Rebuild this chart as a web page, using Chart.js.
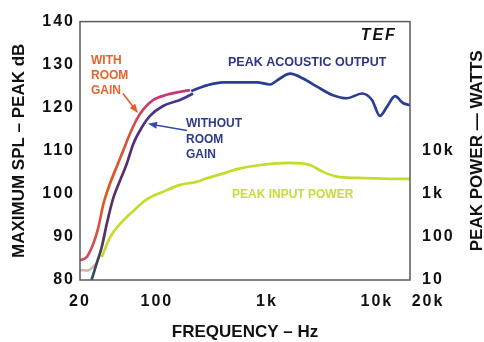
<!DOCTYPE html>
<html>
<head>
<meta charset="utf-8">
<script src="https://cdn.jsdelivr.net/npm/chart.js@4.4.1/dist/chart.umd.min.js"></script>
<style>
  html, body { margin: 0; padding: 0; background: #fff; }
  #wrap { width: 484px; height: 342px; }
</style>
</head>
<body>
<div id="wrap"><canvas id="chart" width="484" height="342"></canvas></div>
<script>
// values (Hz, dB and watts)
const withRoomFreq = [20, 23, 26.4, 29.3, 32.6, 37.5, 43.1, 49.5, 57, 65.6, 75.3, 92.8, 123, 162, 200];
const withRoomDb = [84.6, 85.3, 88.4, 92.1, 97.6, 102.4, 106.3, 110.1, 114.0, 117.3, 119.6, 121.8, 123.0, 123.7, 124.1];

const withoutRoomFreq = [25.5, 28.4, 31.5, 35, 40.1, 44.6, 53.2, 61, 72.8, 86.6, 113.6, 162, 213];
const withoutRoomDb = [80, 83.9, 87.6, 93.0, 99.0, 102.1, 107.0, 111.6, 115.4, 118.1, 120.4, 121.8, 123.3];

const lowEndFreq = [20, 23.5, 28.4];
const lowEndDb = [82.3, 82.2, 83.9];

const acousticFreq = [205, 285, 399, 607, 813, 1067, 1315, 1623, 2128, 2854, 3990, 5348, 7320, 9026, 10660, 12340, 14620, 17270, 20000];
const acousticDb = [123.9, 125.2, 125.9, 125.9, 125.9, 125.4, 126.8, 127.9, 126.8, 124.9, 122.9, 122.2, 123.3, 121.8, 118.1, 120.2, 122.7, 121.1, 120.6];

const inputFreq = [31.5, 37.5, 46.2, 61, 80.8, 114, 162, 230, 274, 383, 546, 866, 1623, 2467, 3235, 4340, 6600, 13150, 20000];
const inputWatts = [34, 98, 200, 400, 740, 1120, 1620, 1900, 2240, 2880, 3800, 4680, 5250, 4680, 3240, 2510, 2340, 2240, 2240];

const freqTicks = [20, 100, 1000, 10000, 20000];
const freqTickLabels = ['20', '100', '1k', '10k', '20k'];
const splTicks = [80, 90, 100, 110, 120, 130, 140];
const powerTicks = [10, 100, 1000, 10000];
const powerTickLabels = ['10', '100', '1k', '10k'];

const pts = (xs, ys) => xs.map((v, i) => ({ x: v, y: ys[i] }));
const tickFont = { family: 'Liberation Sans', size: 16, weight: 'bold' };

function redGrad(context) {
  const { ctx, chartArea, scales } = context.chart;
  if (!chartArea) return '#d4503f';
  const g = ctx.createLinearGradient(0, scales.y.getPixelForValue(84), 0, scales.y.getPixelForValue(124));
  g.addColorStop(0, '#cc4d6a');
  g.addColorStop(0.4, '#de5a22');
  g.addColorStop(0.75, '#d2553f');
  g.addColorStop(1, '#c9347e');
  return g;
}

function purpleGrad(context) {
  const { ctx, chartArea, scales } = context.chart;
  if (!chartArea) return '#55307a';
  const g = ctx.createLinearGradient(0, scales.y.getPixelForValue(80), 0, scales.y.getPixelForValue(123.5));
  g.addColorStop(0, '#2f4f5a');
  g.addColorStop(0.25, '#5a3060');
  g.addColorStop(0.8, '#552d82');
  g.addColorStop(1, '#3a3a96');
  return g;
}

function text(ctx, str, px, py, font, color, align, spacing) {
  ctx.font = font;
  ctx.fillStyle = color;
  ctx.textAlign = align;
  ctx.textBaseline = 'middle';
  ctx.letterSpacing = spacing || '0px';
  ctx.fillText(str, px, py);
}

function arrow(ctx, x0, y0, x1, y1, color) {
  const ang = Math.atan2(y1 - y0, x1 - x0);
  ctx.strokeStyle = color;
  ctx.fillStyle = color;
  ctx.lineWidth = 1.6;
  ctx.beginPath();
  ctx.moveTo(x0, y0);
  ctx.lineTo(x1 - 6 * Math.cos(ang), y1 - 6 * Math.sin(ang));
  ctx.stroke();
  ctx.beginPath();
  ctx.moveTo(x1, y1);
  ctx.lineTo(x1 - 9 * Math.cos(ang) + 3.5 * Math.sin(ang), y1 - 9 * Math.sin(ang) - 3.5 * Math.cos(ang));
  ctx.lineTo(x1 - 9 * Math.cos(ang) - 3.5 * Math.sin(ang), y1 - 9 * Math.sin(ang) + 3.5 * Math.cos(ang));
  ctx.closePath();
  ctx.fill();
}

const spacing = {
  id: 'spacing',
  beforeLayout(chart) { chart.ctx.letterSpacing = '2px'; },
  beforeDraw(chart) {
    chart.ctx.letterSpacing = '2px';
    // the 20k label sits outside the frame corner, to the right of its tick
    const items = chart.scales.x.getLabelItems();
    const last = items[items.length - 1];
    if (last && !last.shifted) {
      last.options.translation[0] += 18;
      last.shifted = true;
    }
  }
};

const notes = {
  id: 'notes',
  afterDraw(chart) {
    const { ctx, chartArea: a, scales: { x, y } } = chart;
    const X = v => x.getPixelForValue(v);
    const Y = v => y.getPixelForValue(v);
    ctx.save();
    ctx.strokeStyle = '#5a5a5a';
    ctx.lineWidth = 1.5;
    ctx.strokeRect(a.left, a.top, a.width, a.height);

    text(ctx, 'TEF', X(15200), Y(136.8), 'italic bold 16px "Liberation Sans"', '#111', 'right', '2px');
    text(ctx, 'PEAK ACOUSTIC OUTPUT', X(443), Y(130.4), 'bold 12.5px "Liberation Sans"', '#2f3580', 'left');

    const lab = 'bold 12px "Liberation Sans"';
    text(ctx, 'WITH', X(25.2), Y(130.9), lab, '#e8622a', 'left');
    text(ctx, 'ROOM', X(25.2), Y(127.5), lab, '#e8622a', 'left');
    text(ctx, 'GAIN', X(25.2), Y(124.0), lab, '#e8622a', 'left');
    arrow(ctx, X(49.2), Y(123.3), X(67.3), Y(118.8), '#e8582a');

    text(ctx, 'WITHOUT', X(184), Y(116.3), lab, '#2e3a8c', 'left');
    text(ctx, 'ROOM', X(184), Y(112.6), lab, '#2e3a8c', 'left');
    text(ctx, 'GAIN', X(184), Y(109.0), lab, '#2e3a8c', 'left');
    arrow(ctx, X(187.8), Y(114.7), X(83), Y(116.3), '#3a4aa8');

    text(ctx, 'PEAK INPUT POWER', X(482), Y(99.85), 'bold 12px "Liberation Sans"', '#c8db3a', 'left');

    const title = 'bold 17px "Liberation Sans"';
    text(ctx, 'FREQUENCY – Hz', (a.left + a.right) / 2, 332, title, '#111', 'center');
    ctx.save();
    ctx.translate(19, (a.top + a.bottom) / 2);
    ctx.rotate(-Math.PI / 2);
    text(ctx, 'MAXIMUM SPL – PEAK dB', 0, 0, title, '#111', 'center');
    ctx.restore();
    ctx.save();
    ctx.translate(477, (a.top + a.bottom) / 2);
    ctx.rotate(-Math.PI / 2);
    text(ctx, 'PEAK POWER — WATTS', 0, 0, title, '#111', 'center');
    ctx.restore();
    ctx.restore();
  }
};

new Chart(document.getElementById('chart'), {
  type: 'line',
  data: {
    datasets: [
      { label: 'With room gain', data: pts(withRoomFreq, withRoomDb), borderColor: redGrad, yAxisID: 'y' },
      { label: 'Without room gain', data: pts(withoutRoomFreq, withoutRoomDb), borderColor: purpleGrad, yAxisID: 'y' },
      { label: 'Low end', data: pts(lowEndFreq, lowEndDb), borderColor: '#cdb9ad', yAxisID: 'y' },
      { label: 'Peak acoustic output', data: pts(acousticFreq, acousticDb), borderColor: '#2a3d91', yAxisID: 'y' },
      { label: 'Peak input power', data: pts(inputFreq, inputWatts), borderColor: '#c6dc2c', yAxisID: 'y2' },
    ],
  },
  options: {
    responsive: false,
    animation: false,
    layout: { padding: { top: 17, left: 0, right: 0, bottom: 0 } },
    elements: {
      point: { radius: 0 },
      line: { borderWidth: 2.7, cubicInterpolationMode: 'monotone', fill: false },
    },
    plugins: { legend: { display: false }, tooltip: { enabled: false } },
    scales: {
      x: {
        type: 'logarithmic',
        min: 20,
        max: 20000,
        afterBuildTicks: s => { s.ticks = freqTicks.map(v => ({ value: v })); },
        afterFit: s => { s.height = 62; },
        ticks: {
          callback: (v, i) => freqTickLabels[i],
          font: tickFont, color: '#111', padding: 12, maxRotation: 0, autoSkip: false,
        },
        grid: { display: false, drawTicks: false },
        border: { display: false },
      },
      y: {
        type: 'linear',
        position: 'left',
        min: 80,
        max: 140,
        afterBuildTicks: s => { s.ticks = splTicks.map(v => ({ value: v })); },
        afterFit: s => { s.width = 80; },
        ticks: { font: tickFont, color: '#111', padding: 5 },
        grid: { display: false, drawTicks: false },
        border: { display: false },
      },
      y2: {
        type: 'logarithmic',
        position: 'right',
        min: 10,
        max: 1e7,
        afterBuildTicks: s => { s.ticks = powerTicks.map(v => ({ value: v })); },
        afterFit: s => { s.width = 74; },
        ticks: { callback: (v, i) => powerTickLabels[i], font: tickFont, color: '#111', padding: 12 },
        grid: { display: false, drawTicks: false },
        border: { display: false },
      },
    },
  },
  plugins: [spacing, notes],
});
</script>
</body>
</html>
